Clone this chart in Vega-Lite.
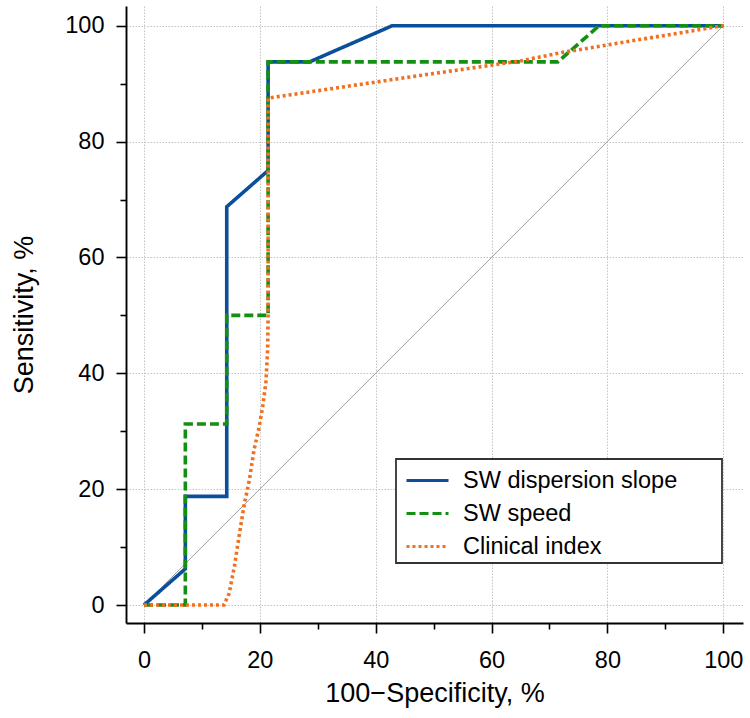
{
  "$schema": "https://vega.github.io/schema/vega-lite/v6.json",
  "autosize": "none",
  "width": 617,
  "height": 617,
  "padding": {"left": 126, "top": 6, "right": 7, "bottom": 95},
  "background": "white",
  "config": {
    "view": {"stroke": null},
    "font": "Liberation Sans"
  },
  "datasets": {
    "roc": [
      {"series": "SW dispersion slope", "fpr": 0, "tpr": 0, "ord": 0},
      {"series": "SW dispersion slope", "fpr": 7.14, "tpr": 6.25, "ord": 1},
      {"series": "SW dispersion slope", "fpr": 7.14, "tpr": 18.75, "ord": 2},
      {"series": "SW dispersion slope", "fpr": 14.29, "tpr": 18.75, "ord": 3},
      {"series": "SW dispersion slope", "fpr": 14.29, "tpr": 68.75, "ord": 4},
      {"series": "SW dispersion slope", "fpr": 21.43, "tpr": 75, "ord": 5},
      {"series": "SW dispersion slope", "fpr": 21.43, "tpr": 93.75, "ord": 6},
      {"series": "SW dispersion slope", "fpr": 28.57, "tpr": 93.75, "ord": 7},
      {"series": "SW dispersion slope", "fpr": 42.86, "tpr": 100, "ord": 8},
      {"series": "SW dispersion slope", "fpr": 100, "tpr": 100, "ord": 9},
      {"series": "SW speed", "fpr": 0, "tpr": 0, "ord": 0},
      {"series": "SW speed", "fpr": 7.14, "tpr": 0, "ord": 1},
      {"series": "SW speed", "fpr": 7.14, "tpr": 31.25, "ord": 2},
      {"series": "SW speed", "fpr": 14.29, "tpr": 31.25, "ord": 3},
      {"series": "SW speed", "fpr": 14.29, "tpr": 50, "ord": 4},
      {"series": "SW speed", "fpr": 21.43, "tpr": 50, "ord": 5},
      {"series": "SW speed", "fpr": 21.43, "tpr": 93.75, "ord": 6},
      {"series": "SW speed", "fpr": 71.43, "tpr": 93.75, "ord": 7},
      {"series": "SW speed", "fpr": 78.57, "tpr": 100, "ord": 8},
      {"series": "SW speed", "fpr": 100, "tpr": 100, "ord": 9},
      {"series": "Clinical index", "fpr": 0, "tpr": 0, "ord": 0},
      {"series": "Clinical index", "fpr": 13.8, "tpr": 0, "ord": 1},
      {"series": "Clinical index", "fpr": 14.7, "tpr": 2, "ord": 2},
      {"series": "Clinical index", "fpr": 15.6, "tpr": 6.6, "ord": 3},
      {"series": "Clinical index", "fpr": 16.4, "tpr": 11.8, "ord": 4},
      {"series": "Clinical index", "fpr": 17.3, "tpr": 17.3, "ord": 5},
      {"series": "Clinical index", "fpr": 18.2, "tpr": 21.6, "ord": 6},
      {"series": "Clinical index", "fpr": 19.0, "tpr": 26.8, "ord": 7},
      {"series": "Clinical index", "fpr": 19.9, "tpr": 30.8, "ord": 8},
      {"series": "Clinical index", "fpr": 20.5, "tpr": 34.3, "ord": 9},
      {"series": "Clinical index", "fpr": 21.05, "tpr": 38.4, "ord": 10},
      {"series": "Clinical index", "fpr": 21.35, "tpr": 44.1, "ord": 11},
      {"series": "Clinical index", "fpr": 21.43, "tpr": 50, "ord": 12},
      {"series": "Clinical index", "fpr": 21.43, "tpr": 87.5, "ord": 13},
      {"series": "Clinical index", "fpr": 47.6, "tpr": 91.4, "ord": 14},
      {"series": "Clinical index", "fpr": 64.9, "tpr": 93.9, "ord": 15},
      {"series": "Clinical index", "fpr": 72.3, "tpr": 95.4, "ord": 16},
      {"series": "Clinical index", "fpr": 100, "tpr": 100, "ord": 17}
    ],
    "diag": [
      {"fpr": 0, "tpr": 0},
      {"fpr": 100, "tpr": 100}
    ]
  },
  "layer": [
    {
      "data": {"name": "diag"},
      "mark": {"type": "line", "color": "#8a8a8a", "strokeWidth": 0.8},
      "encoding": {
        "x": {
          "field": "fpr", "type": "quantitative",
          "scale": {"domain": [-3.1, 103.4], "nice": false, "zero": false},
          "axis": {
            "values": [0,5,10,15,20,25,30,35,40,45,50,55,60,65,70,75,80,85,90,95,100],
            "labelExpr": "datum.value % 20 === 0 ? datum.label : ''",
            "title": "100\u2212Specificity, %",
            "titleFontSize": 27, "titleFontWeight": "normal", "titleColor": "#000",
            "titlePadding": 9,
            "labelFontSize": 23.5, "labelColor": "#000", "labelPadding": 15,
            "domainColor": "#000", "domainWidth": 1.9,
            "tickColor": "#000", "tickWidth": 1.6,
            "tickSize": {"condition": {"test": "datum.value % 20 === 0", "value": 10}, "value": 6},
            "grid": true,
            "gridColor": "#c4c4c4", "gridDash": [1.5, 1.5], "gridWidth": 1,
            "gridOpacity": {"condition": {"test": "datum.value % 20 === 0", "value": 1}, "value": 0}
          }
        },
        "y": {
          "field": "tpr", "type": "quantitative",
          "scale": {"domain": [-3.1, 103.4], "nice": false, "zero": false},
          "axis": {
            "values": [0,5,10,15,20,25,30,35,40,45,50,55,60,65,70,75,80,85,90,95,100],
            "labelExpr": "datum.value % 20 === 0 ? datum.label : ''",
            "title": "Sensitivity, %",
            "titleFontSize": 27, "titleFontWeight": "normal", "titleColor": "#000",
            "titlePadding": 26,
            "labelFontSize": 23.5, "labelColor": "#000", "labelPadding": 12,
            "domainColor": "#000", "domainWidth": 1.9,
            "tickColor": "#000", "tickWidth": 1.6,
            "tickSize": {"condition": {"test": "datum.value % 20 === 0", "value": 10}, "value": 6},
            "grid": true,
            "gridColor": "#c4c4c4", "gridDash": [1.5, 1.5], "gridWidth": 1,
            "gridOpacity": {"condition": {"test": "datum.value % 20 === 0", "value": 1}, "value": 0}
          }
        }
      }
    },
    {
      "data": {"name": "roc"},
      "mark": {"type": "line", "strokeWidth": 3.6, "strokeCap": "butt"},
      "encoding": {
        "x": {"field": "fpr", "type": "quantitative"},
        "y": {"field": "tpr", "type": "quantitative"},
        "order": {"field": "ord", "type": "quantitative"},
        "color": {
          "field": "series", "type": "nominal",
          "scale": {
            "domain": ["SW dispersion slope", "SW speed", "Clinical index"],
            "range": ["#0b4f9c", "#139013", "#f07020"]
          },
          "legend": {
            "title": null,
            "orient": "none",
            "legendX": 270,
            "legendY": 453,
            "symbolType": "M-1.4,0H1.4",
            "symbolSize": 900,
            "symbolStrokeWidth": 3,
            "symbolOffset": 10,
            "labelFontSize": 23.5,
            "labelColor": "#000",
            "labelOffset": 19,
            "labelLimit": 500,
            "labelExpr": "datum.label + '\u2007\u2007\u2007\u200b'",
            "rowPadding": 5,
            "padding": 5,
            "strokeColor": "#333",
            "fillColor": "white",
            "encode": {"legend": {"update": {"strokeWidth": {"value": 1.8}}}}
          }
        },
        "strokeDash": {
          "field": "series", "type": "nominal",
          "scale": {
            "domain": ["SW dispersion slope", "SW speed", "Clinical index"],
            "range": [[1, 0], [9, 4], [3, 3]]
          },
          "legend": null
        }
      }
    }
  ]
}
